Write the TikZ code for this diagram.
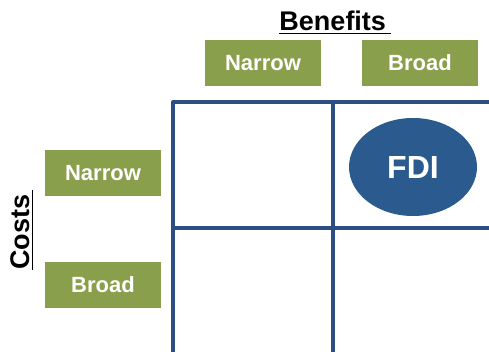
\documentclass[tikz,border=0pt]{standalone}
\usepackage{fontspec}
\setmainfont{Liberation Sans}
\usetikzlibrary{positioning,shapes.geometric}
\definecolor{matgreen}{HTML}{8A9F4B}
\definecolor{matblue}{HTML}{2A5A8E}
\definecolor{matline}{HTML}{2B4F82}
\tikzset{
every picture/.style={line cap=round,line join=round},
scope box/.style={
  fill=matgreen,
  minimum width=58pt,
  minimum height=23pt,
  inner sep=0pt,
  text=white,
  font=\bfseries\fontsize{11}{12}\selectfont
},
axis label/.style={font=\bfseries\fontsize{13.5}{15}\selectfont, text=black, inner sep=0pt},
grid line/.style={draw=matline, line width=1.6pt, line cap=butt},
fdi node/.style={ellipse, fill=matblue, minimum width=64pt, minimum height=49pt,
  inner sep=0pt, text=white, font=\bfseries\fontsize{16}{18}\selectfont}
}
\begin{document}
\begin{tikzpicture}[x=0.5pt,y=-0.5pt]
\useasboundingbox (0,0) rectangle (489,352);
\clip (0,0) rectangle (489,352);
% axis titles
\node[axis label] (benefits) at (335,23) {\underline{Benefits\,}};
\node[axis label, rotate=90] (costs) at (22,230) {\underline{Costs\,}};
% column and row headers
\node[scope box] (bnarrow) at (263,63) {Narrow};
\node[scope box] (bbroad) at (420,63) {Broad};
\node[scope box] (cnarrow) at (103,173) {Narrow};
\node[scope box] (cbroad) at (103,285) {Broad};
% matrix
\draw[grid line] (173,360) -- (173,102) -- (500,102);
\draw[grid line] (333,102) -- (333,360);
\draw[grid line] (173,228) -- (500,228);
\node[fdi node] (fdi) at (413,167) {FDI};
\end{tikzpicture}
\end{document}
